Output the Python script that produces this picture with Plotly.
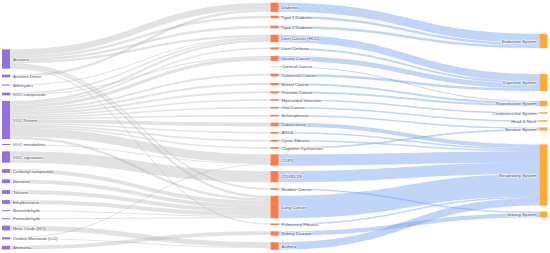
import plotly.graph_objects as go

# ---- data -------------------------------------------------------------
sources_voc = ["Acetone", "Acetone Dimer", "Aldehydes", "VOC compounds", "VOC Pattern",
               "VOC metabolites", "VOC signatures", "Carbonyl compounds", "Benzene", "Toluene",
               "Ethylbenzene", "Benzaldehyde", "Formaldehyde", "Nitric Oxide (NO)",
               "Carbon Monoxide (CO)", "Ammonia"]
diseases = ["Diabetes", "Type 1 Diabetes", "Type 2 Diabetes", "Liver Cancer (HCC)", "Liver Cirrhosis",
            "Gastric Cancer", "Cervical Cancer", "Colorectal Cancer", "Breast Cancer", "Prostate Cancer",
            "Myocardial Infarction", "Oral Cancer", "Schizophrenia", "Tuberculosis", "ARDS",
            "Cystic Fibrosis", "Cognitive Dysfunction", "COPD", "COVID-19", "Bladder Cancer",
            "Lung Cancer", "Pulmonary Fibrosis", "Kidney Disease", "Asthma"]
systems = ["Endocrine System", "Digestive System", "Reproductive System", "Cardiovascular System",
           "Head & Neck", "Nervous System", "Respiratory System", "Urinary System"]

# VOC -> disease links (source, target, value)
voc_links_src = ["Acetone", "Acetone", "Acetone", "Acetone", "Acetone", "Acetone", "Acetone",
                 "Acetone Dimer", "Aldehydes", "VOC compounds", "VOC compounds",
                 "VOC Pattern", "VOC Pattern", "VOC Pattern", "VOC Pattern", "VOC Pattern",
                 "VOC Pattern", "VOC Pattern", "VOC Pattern", "VOC Pattern", "VOC Pattern",
                 "VOC Pattern", "VOC Pattern", "VOC Pattern", "VOC Pattern", "VOC Pattern",
                 "VOC metabolites", "VOC signatures", "Carbonyl compounds", "Benzene", "Toluene",
                 "Ethylbenzene", "Benzaldehyde", "Formaldehyde", "Nitric Oxide (NO)",
                 "Carbon Monoxide (CO)", "Carbon Monoxide (CO)", "Ammonia"]
voc_links_tgt = ["Diabetes", "Type 1 Diabetes", "Type 2 Diabetes", "Liver Cancer (HCC)", "Lung Cancer",
                 "Bladder Cancer", "Pulmonary Fibrosis",
                 "Diabetes", "Liver Cancer (HCC)", "Liver Cancer (HCC)", "Gastric Cancer",
                 "Liver Cancer (HCC)", "Liver Cirrhosis", "Gastric Cancer", "Colorectal Cancer",
                 "Breast Cancer", "Prostate Cancer", "Myocardial Infarction", "Oral Cancer",
                 "Schizophrenia", "Tuberculosis", "ARDS", "Cystic Fibrosis", "Cognitive Dysfunction",
                 "COPD", "Lung Cancer",
                 "COPD", "COVID-19", "Lung Cancer", "Lung Cancer", "Lung Cancer",
                 "Lung Cancer", "Lung Cancer", "Lung Cancer", "Asthma",
                 "COPD", "Asthma", "Kidney Disease"]
voc_links_val = [6, 2.5, 2.5, 2, 2.5, 1.5, 1,
                 2.5, 1, 1.5, 1,
                 2, 1.5, 3, 2, 2, 2, 1.5, 1.5, 1.5, 3.5, 1.5, 1.5, 1.5, 8, 2.5,
                 1, 10.5, 3.5, 3.5, 3.5, 3.5, 1, 1, 4.5, 1, 1, 3.5]

# disease -> body system links
sys_links_src = diseases
sys_links_tgt = ["Endocrine System", "Endocrine System", "Endocrine System", "Digestive System",
                 "Digestive System", "Digestive System", "Reproductive System", "Digestive System",
                 "Reproductive System", "Reproductive System", "Cardiovascular System", "Head & Neck",
                 "Nervous System", "Respiratory System", "Respiratory System", "Respiratory System",
                 "Nervous System", "Respiratory System", "Respiratory System", "Urinary System",
                 "Respiratory System", "Respiratory System", "Urinary System", "Respiratory System"]
sys_links_val = [8.5, 2.5, 2.5, 7, 2, 4.5, 1, 2.5, 2, 2, 1.5, 1.5,
                 1.5, 3.5, 1.5, 1.5, 1.5, 10.5, 10.5, 1.5, 21, 1.5, 4, 7]

# node centre positions (pixels)
voc_y = [59, 76, 85, 94, 120, 144.5, 157, 171, 181.3, 192, 202, 210.7, 218.7, 228, 238.3, 247.7]
dis_y = [7.3, 17, 27, 38.5, 48.5, 58.5, 66.7, 75, 84, 92.3, 100, 107.7, 115.7, 124.5, 132.7,
         140.7, 148, 160, 176.7, 189, 207, 224.3, 233.5, 246]
sys_y = [41, 82.5, 103.5, 113, 121, 129, 175, 214.5]

# ---- figure -----------------------------------------------------------
W, H = 550, 253
labels = sources_voc + diseases + systems
idx = {n: i for i, n in enumerate(labels)}

node_x = [6 / W] * len(sources_voc) + [274.5 / W] * len(diseases) + [543.5 / W] * len(systems)
node_y = [v / H for v in voc_y + dis_y + sys_y]

node_colors = (["#9370DB"] * len(sources_voc)
               + ["rgba(255,220,205,1)" if d == "Cervical Cancer" else "#FF7A45" for d in diseases]
               + ["#FFAA33"] * len(systems))

src = [idx[s] for s in voc_links_src] + [idx[s] for s in sys_links_src]
tgt = [idx[t] for t in voc_links_tgt] + [idx[t] for t in sys_links_tgt]
val = voc_links_val + sys_links_val
link_colors = (["rgba(175,175,175,0.36)"] * len(voc_links_val)
               + ["rgba(100,149,237,0.4)"] * len(sys_links_val))

fig = go.Figure(go.Sankey(
    arrangement="fixed",
    node=dict(
        label=labels,
        x=node_x,
        y=node_y,
        pad=6.52,
        thickness=8,
        color=node_colors,
        line=dict(width=0),
    ),
    link=dict(source=src, target=tgt, value=val, color=link_colors),
    textfont=dict(family="Liberation Sans, Arial, sans-serif", size=4.3, color="#555555"),
))

fig.update_layout(
    width=W, height=H,
    margin=dict(l=0, r=0, t=0, b=0),
    paper_bgcolor="white",
    plot_bgcolor="white",
)

fig.write_html("out.html", config={"displayModeBar": False},
               post_script="document.body.style.margin='0';")
